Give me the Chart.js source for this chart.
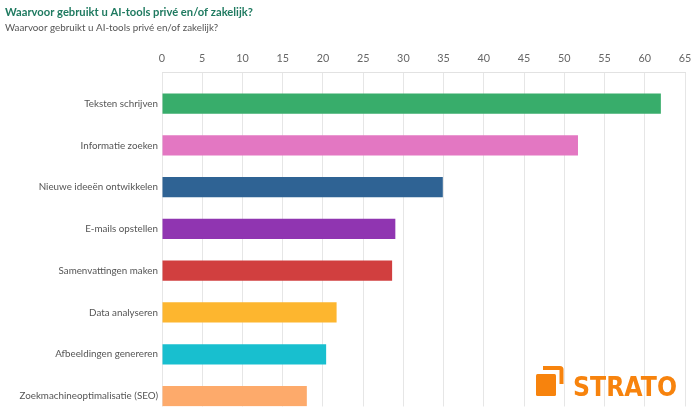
<!DOCTYPE html>
<html>
<head>
<meta charset="utf-8">
<script src="https://cdn.jsdelivr.net/npm/chart.js@4.4.1/dist/chart.umd.min.js"></script>
<style>
  html, body { margin: 0; padding: 0; background: #ffffff; }
  #wrap { width: 700px; height: 420px; position: relative; }
</style>
</head>
<body>
<div id="wrap"><canvas id="c" width="700" height="420"></canvas></div>
<script>
const titleText = 'Waarvoor gebruikt u AI-tools privé en/of zakelijk?';
const subtitleText = 'Waarvoor gebruikt u AI-tools privé en/of zakelijk?';
const categories = [
  'Teksten schrijven',
  'Informatie zoeken',
  'Nieuwe ideeën ontwikkelen',
  'E-mails opstellen',
  'Samenvattingen maken',
  'Data analyseren',
  'Afbeeldingen genereren',
  'Zoekmachineoptimalisatie (SEO)'
];
const values = [62, 51.7, 34.9, 29.0, 28.6, 21.7, 20.4, 18.0];
const barColors = ['#38ad6b', '#e377c2', '#2f6394', '#9035b1', '#d13f3f', '#fdb62f', '#18bfcf', '#fdaa6b'];
const axisMax = 65;
const axisStep = 5;
const logoText = 'STRATO';

const fontFamily = 'Lato, "Open Sans", sans-serif';

const logoPlugin = {
  id: 'logo',
  afterDraw(chart) {
    const ctx = chart.ctx;
    ctx.save();
    ctx.fillStyle = '#f7830d';
    ctx.beginPath();
    ctx.roundRect(536, 374, 20, 22, 1.5);
    ctx.fill();
    ctx.beginPath();
    ctx.moveTo(543, 366);
    ctx.lineTo(560, 366);
    ctx.quadraticCurveTo(563.5, 366, 563.5, 369.5);
    ctx.lineTo(563.5, 384);
    ctx.lineTo(559.5, 384);
    ctx.lineTo(559.5, 370);
    ctx.lineTo(543, 370);
    ctx.closePath();
    ctx.fill();
    ctx.font = 'bold 26px "DejaVu Sans", sans-serif';
    ctx.textBaseline = 'alphabetic';
    ctx.textAlign = 'left';
    const w = ctx.measureText(logoText).width;
    const target = 104;
    ctx.translate(573, 396);
    ctx.scale(target / w, 1);
    ctx.fillText(logoText, 0, 0);
    ctx.restore();
  }
};

new Chart(document.getElementById('c'), {
  type: 'bar',
  data: {
    labels: categories,
    datasets: [
      { label: 'spacer', data: categories.map(() => null), backgroundColor: 'rgba(0,0,0,0)' },
      { label: 'Aandeel', data: values, backgroundColor: barColors, borderWidth: 0 }
    ]
  },
  options: {
    indexAxis: 'y',
    responsive: false,
    animation: false,
    devicePixelRatio: 1,
    categoryPercentage: 1,
    barPercentage: 0.97,
    layout: { padding: { left: 5, right: 15, top: 6, bottom: 13.5 } },
    plugins: {
      legend: { display: false },
      tooltip: { enabled: false },
      title: {
        display: true, text: titleText, align: 'start',
        color: '#1f7a60',
        font: { family: fontFamily, size: 11.2, weight: 'bold' },
        padding: { top: 0, bottom: 3 }
      },
      subtitle: {
        display: true, text: subtitleText, align: 'start',
        color: '#555555',
        font: { family: fontFamily, size: 9.8 },
        padding: { top: 0, bottom: 0 }
      }
    },
    scales: {
      x: {
        position: 'top',
        min: 0, max: axisMax,
        ticks: { stepSize: axisStep, color: '#666666', padding: 7, font: { family: fontFamily, size: 10.8 } },
        grid: { color: '#e6e6e6', drawTicks: false, lineWidth: 1 },
        border: { display: true, color: '#e2e2e2' },
        afterFit(s) { s.height = 38; }
      },
      y: {
        ticks: { color: '#555555', padding: 4, labelOffset: 10.5, font: { family: fontFamily, size: 9.8 } },
        grid: { display: false, drawTicks: false },
        border: { display: false },
        afterFit(s) { s.width = 157; }
      }
    }
  },
  plugins: [logoPlugin]
});
</script>
</body>
</html>
